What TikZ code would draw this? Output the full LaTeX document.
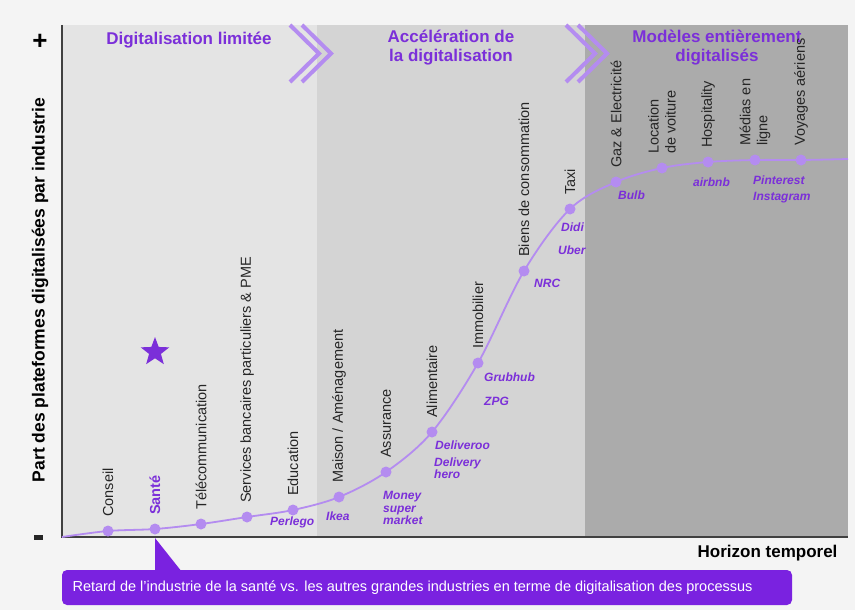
\documentclass[tikz,border=0pt]{standalone}
\usepackage{fontspec}
\setmainfont{Liberation Sans}
\usetikzlibrary{positioning,shapes.geometric}
\definecolor{fond}{HTML}{F4F4F4}
\definecolor{zoneA}{HTML}{E4E4E4}
\definecolor{zoneB}{HTML}{D4D4D4}
\definecolor{zoneC}{HTML}{ABABAB}
\definecolor{violet}{HTML}{7B2FD9}
\definecolor{lila}{HTML}{B48CF0}
\definecolor{encadre}{HTML}{7A22E0}
\tikzset{
  secteur/.style={yshift=14pt, rotate=90, anchor=west, inner sep=0pt,
    text=black!85, align=left, font=\fontsize{14.5}{17}\selectfont},
  acteur/.style={anchor=west, inner sep=0pt, align=left, text=violet,
    font=\fontsize{12}{12.5}\selectfont\bfseries\itshape},
  point/.style={circle, fill=lila, inner sep=0pt, minimum size=11pt},
  phase/.style={text=violet, align=center, font=\fontsize{17}{19}\selectfont\bfseries},
  chevron/.style={draw=lila, line width=4pt, miter limit=10},
}
\begin{document}
\begin{tikzpicture}[x=1pt,y=-1pt]
  \fill[fond] (0,0) rectangle (855,610);
  \useasboundingbox (0,0) rectangle (855,610);
  % les trois phases
  \fill[zoneA] (62,25) rectangle (317,537);
  \fill[zoneB] (317,25) rectangle (585,537);
  \fill[zoneC] (585,25) rectangle (848,537);
  \draw[chevron] (290,25) -- (319,53.5) -- (290,82)
    (302,25) -- (331,53.5) -- (302,82);
  \draw[chevron] (566,25) -- (595,53.5) -- (566,82)
    (578,25) -- (607,53.5) -- (578,82);
  \node[phase] at (189,40) (ph1) {Digitalisation limitée};
  \node[phase] at (451,48) (ph2) {Accélération de\\la digitalisation};
  \node[phase] at (717,48) (ph3) {Modèles entièrement\\digitalisés};
  % axes
  \draw[black!75, line width=1.3pt] (62,25) -- (62,537) -- (848,537);
  \node[font=\fontsize{26}{26}\selectfont\bfseries] at (40,42) (plus) {+};
  \fill[black!85] (34,535) rectangle (43,540);
  \node[rotate=90, font=\fontsize{17.5}{19}\selectfont\bfseries] at (40,290) (yl)
    {Part des plateformes digitalisées par industrie};
  \node[anchor=east, font=\fontsize{17}{19}\selectfont\bfseries] at (841,553) (xl)
    {Horizon temporel};
  % courbe
  \draw[lila, line width=1.8pt] plot[smooth, tension=0.55] coordinates {
    (62,537) (108,531) (155,529) (201,524) (247,517) (293,510) (339,497)
    (386,472) (432,432) (478,363) (524,271) (570,209) (616,182) (662,168)
    (708,162) (755,160) (801,160) (848,159)};
  \node[point] at (108,531) (conseil) {};
  \node[point] at (155,529) (sante) {};
  \node[point] at (201,524) (telecom) {};
  \node[point] at (247,517) (banque) {};
  \node[point] at (293,510) (educ) {};
  \node[point] at (339,497) (maison) {};
  \node[point] at (386,472) (assur) {};
  \node[point] at (432,432) (alim) {};
  \node[point] at (478,363) (immo) {};
  \node[point] at (524,271) (biens) {};
  \node[point] at (570,209) (taxi) {};
  \node[point] at (616,182) (gaz) {};
  \node[point] at (662,168) (loc) {};
  \node[point] at (708,162) (hosp) {};
  \node[point] at (755,160) (medias) {};
  \node[point] at (801,160) (voyages) {};
  % industries
  \node[secteur] at (conseil) {Conseil};
  \node[secteur, text=violet, font=\fontsize{14.5}{17}\selectfont\bfseries] at (sante) {Santé};
  \node[secteur] at (telecom) {Télécommunication};
  \node[secteur] at (banque) {Services bancaires particuliers \& PME};
  \node[secteur] at (educ) {Education};
  \node[secteur] at (maison) {Maison / Aménagement};
  \node[secteur] at (assur) {Assurance};
  \node[secteur] at (alim) {Alimentaire};
  \node[secteur] at (immo) {Immobilier};
  \node[secteur] at (biens) {Biens de consommation};
  \node[secteur] at (taxi) {Taxi};
  \node[secteur] at (gaz) {Gaz \& Electricité};
  \node[secteur] at (loc) {Location\\de voiture};
  \node[secteur] at (hosp) {Hospitality};
  \node[secteur] at (medias) {Médias en\\ligne};
  \node[secteur] at (voyages) {Voyages aériens};
  % acteurs
  \node[acteur] at (270,522) {Perlego};
  \node[acteur] at (326,516) {Ikea};
  \node[acteur] at (383,508) {Money\\super\\market};
  \node[acteur] at (435,445) {Deliveroo};
  \node[acteur] at (434,468) {Delivery\\hero};
  \node[acteur] at (484,377) {Grubhub};
  \node[acteur] at (484,401) {ZPG};
  \node[acteur] at (534,283) {NRC};
  \node[acteur] at (561,227) {Didi};
  \node[acteur] at (558,250) {Uber};
  \node[acteur] at (618,195) {Bulb};
  \node[acteur] at (693,182) {airbnb};
  \node[acteur] at (753,180) {Pinterest};
  \node[acteur] at (753,198) {Instagram};
  \node[star, star points=5, star point ratio=2.4, fill=violet, inner sep=0pt,
    minimum size=30pt] at (155,352) (etoile) {};
  % encadre
  \fill[encadre, rounded corners=5pt] (62,570) rectangle (792,605);
  \fill[encadre] ([yshift=-9pt]sante.center) -- (155,572) -- (182,572) -- cycle;
  \node[anchor=west, text=white, font=\fontsize{14.5}{16}\selectfont] at (69,588) (retard)
    {Retard de l'industrie de la santé vs. les autres grandes industries en terme de digitalisation des processus};
\end{tikzpicture}
\end{document}
